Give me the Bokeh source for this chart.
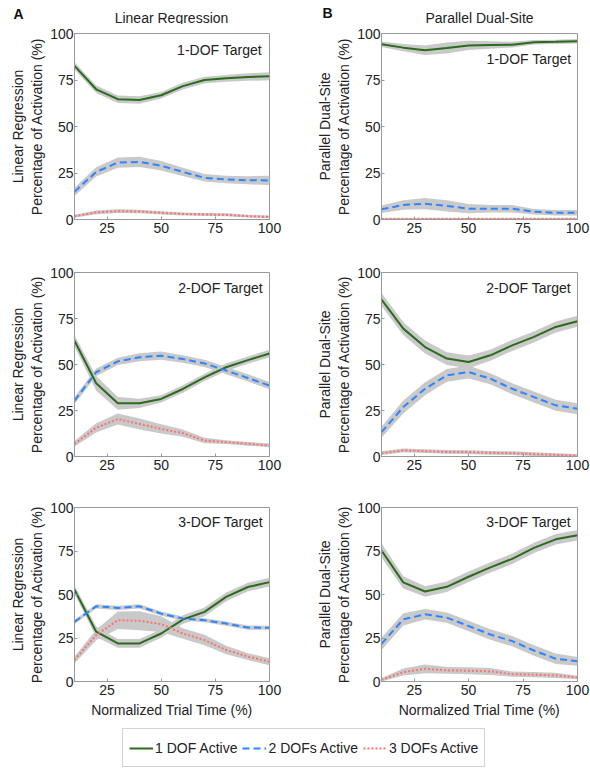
from bokeh.plotting import figure
from bokeh.layouts import column, row
from bokeh.models import Label, Legend, LegendItem, Range1d
from bokeh.embed import file_html
from bokeh.resources import INLINE

# ---------------- data ----------------
time_pct = [10, 20, 30, 40, 50, 60, 70, 80, 90, 100]
x_ticks = [25, 50, 75, 100]
y_ticks = [0, 25, 50, 75, 100]

series_names = ["1 DOF Active", "2 DOFs Active", "3 DOFs Active"]
column_titles = ["Linear Regression", "Parallel Dual-Site"]
column_letters = ["A", "B"]
target_titles = ["1-DOF Target", "2-DOF Target", "3-DOF Target"]
x_axis_title = "Normalized Trial Time (%)"
y_axis_title = "Percentage of Activation (%)"

# Linear Regression, 1-DOF target
lr_t1_one = [82.6, 70.0, 64.7, 64.2, 66.8, 71.7, 75.0, 75.9, 76.6, 77.0]
lr_t1_two = [14.9, 25.6, 30.6, 31.0, 28.9, 25.6, 22.4, 21.5, 21.1, 21.0]
lr_t1_three = [1.8, 3.8, 4.5, 4.3, 3.6, 3.0, 2.7, 2.5, 1.8, 1.4]
lr_t1_one_sem = [2.0, 2.0, 2.0, 2.0, 1.8, 1.8, 1.8, 1.8, 2.0, 2.2]
lr_t1_two_sem = [2.2, 2.5, 2.8, 2.8, 2.5, 2.2, 2.0, 2.0, 2.2, 2.5]
lr_t1_three_sem = [0.8, 1.0, 1.0, 1.0, 0.9, 0.8, 0.8, 0.8, 0.7, 0.7]

# Linear Regression, 2-DOF target
lr_t2_one = [62.9, 39.8, 28.9, 28.9, 31.3, 36.7, 43.0, 48.5, 52.4, 56.0]
lr_t2_two = [30.4, 45.8, 51.7, 53.9, 54.8, 53.0, 50.6, 46.7, 42.7, 38.5]
lr_t2_three = [6.9, 15.6, 20.4, 17.7, 15.0, 12.7, 8.7, 7.8, 6.9, 6.0]
lr_t2_one_sem = [3.0, 4.0, 3.5, 2.5, 2.0, 2.0, 2.0, 2.0, 2.0, 2.0]
lr_t2_two_sem = [2.0, 2.0, 2.0, 2.2, 2.2, 2.0, 2.0, 2.0, 2.0, 2.0]
lr_t2_three_sem = [1.5, 2.5, 3.0, 3.0, 2.5, 2.0, 1.5, 1.0, 1.0, 1.0]

# Linear Regression, 3-DOF target
lr_t3_one = [52.8, 28.6, 21.9, 21.9, 27.6, 35.6, 40.0, 48.6, 54.3, 57.1]
lr_t3_two = [34.3, 43.2, 42.3, 43.2, 39.0, 36.2, 35.2, 33.3, 31.0, 30.9]
lr_t3_three = [12.4, 26.7, 35.2, 34.9, 33.0, 27.6, 23.8, 18.1, 14.3, 11.4]
lr_t3_one_sem = [2.5, 3.0, 2.5, 2.5, 2.5, 2.5, 2.5, 2.5, 2.5, 2.5]
lr_t3_two_sem = [1.2, 1.2, 1.2, 1.2, 1.2, 1.2, 1.2, 1.2, 1.2, 1.2]
lr_t3_three_sem = [2.0, 3.0, 5.0, 5.5, 4.5, 3.0, 3.0, 2.5, 2.0, 2.0]

# Parallel Dual-Site, 1-DOF target
pd_t1_one = [94.2, 92.4, 91.0, 92.2, 93.6, 93.8, 94.0, 95.3, 95.5, 95.8]
pd_t1_two = [5.5, 7.8, 8.5, 7.3, 5.8, 5.8, 5.8, 4.2, 3.6, 3.6]
pd_t1_three = [0.4, 0.4, 0.4, 0.4, 0.4, 0.4, 0.4, 0.4, 0.4, 0.4]
pd_t1_one_sem = [1.5, 2.0, 2.5, 3.0, 2.5, 2.0, 1.5, 1.2, 1.2, 1.2]
pd_t1_two_sem = [2.0, 2.5, 3.0, 3.0, 2.5, 2.0, 2.0, 1.5, 1.5, 1.5]
pd_t1_three_sem = [0.4, 0.4, 0.4, 0.4, 0.4, 0.4, 0.4, 0.4, 0.4, 0.4]

# Parallel Dual-Site, 2-DOF target
pd_t2_one = [85.3, 69.5, 59.5, 53.2, 51.4, 55.0, 60.4, 65.0, 70.4, 73.5]
pd_t2_two = [13.2, 26.9, 36.8, 44.1, 45.9, 42.3, 36.8, 32.3, 27.8, 26.0]
pd_t2_three = [1.8, 3.3, 2.9, 2.5, 2.4, 2.0, 1.8, 1.3, 0.9, 0.5]
pd_t2_one_sem = [3.5, 3.5, 3.5, 3.5, 3.5, 3.0, 3.0, 3.0, 3.0, 3.0]
pd_t2_two_sem = [3.0, 3.5, 3.5, 3.5, 3.5, 3.0, 3.0, 3.0, 3.0, 3.0]
pd_t2_three_sem = [1.0, 1.0, 1.0, 1.0, 1.0, 1.0, 1.0, 1.0, 0.8, 0.8]

# Parallel Dual-Site, 3-DOF target
pd_t3_one = [75.3, 57.0, 51.7, 54.4, 60.2, 65.6, 70.5, 76.8, 81.7, 84.0]
pd_t3_two = [21.6, 35.7, 38.6, 36.7, 31.9, 27.0, 23.2, 17.8, 13.1, 11.6]
pd_t3_three = [1.0, 5.4, 7.3, 6.4, 6.2, 5.8, 4.2, 3.9, 3.5, 2.3]
pd_t3_one_sem = [4.0, 3.5, 3.0, 3.0, 3.0, 3.0, 3.0, 3.0, 3.0, 3.0]
pd_t3_two_sem = [3.5, 3.5, 3.0, 3.0, 3.0, 3.0, 3.0, 3.0, 3.0, 2.5]
pd_t3_three_sem = [1.0, 2.0, 2.5, 2.0, 2.0, 2.0, 1.5, 1.5, 1.5, 1.0]

panels = [
    [  # Linear Regression column
        ([lr_t1_one, lr_t1_two, lr_t1_three], [lr_t1_one_sem, lr_t1_two_sem, lr_t1_three_sem]),
        ([lr_t2_one, lr_t2_two, lr_t2_three], [lr_t2_one_sem, lr_t2_two_sem, lr_t2_three_sem]),
        ([lr_t3_one, lr_t3_two, lr_t3_three], [lr_t3_one_sem, lr_t3_two_sem, lr_t3_three_sem]),
    ],
    [  # Parallel Dual-Site column
        ([pd_t1_one, pd_t1_two, pd_t1_three], [pd_t1_one_sem, pd_t1_two_sem, pd_t1_three_sem]),
        ([pd_t2_one, pd_t2_two, pd_t2_three], [pd_t2_one_sem, pd_t2_two_sem, pd_t2_three_sem]),
        ([pd_t3_one, pd_t3_two, pd_t3_three], [pd_t3_one_sem, pd_t3_two_sem, pd_t3_three_sem]),
    ],
]

# ---------------- style ----------------
FONT = "Liberation Sans"
TXT = "#222222"
AX = "#9a9a9a"
BAND = "#c9c9c9"
COLORS = ["#2c6b1c", "#2f84ff", "#ff7070"]
DASHES = ["solid", "7 4", "2 2"]
WIDTHS = [2, 2, 2]

col_geom = [dict(width=295, left=74, right=26), dict(width=295, left=86, right=13)]
row_geom = [dict(height=223, top=9, bottom=28),
            dict(height=236, top=25, bottom=27),
            dict(height=240, top=24, bottom=42)]
target_label_pos = [
    [(96.5, 91.0), (97.0, 91.8), (97.0, 91.4)],
    [(97.2, 86.5), (97.0, 91.8), (97.0, 91.4)],
]


def bare_figure(w, h, xr, yr):
    f = figure(width=w, height=h, x_range=Range1d(*xr), y_range=Range1d(*yr),
               toolbar_location=None, output_backend="svg", min_border=0,
               x_axis_location=None, y_axis_location=None,
               background_fill_color="white", border_fill_color="white")
    f.outline_line_color = None
    f.grid.visible = False
    return f


# ---------------- header (panel letters and column titles) ----------------
HEAD_H = 24
head = bare_figure(590, HEAD_H, (0, 590), (0, HEAD_H))
for ci, (lx, ly, tx, ty) in enumerate([(13, 13, 171, 17), (322, 12, 479, 17)]):
    head.add_layout(Label(x=lx, y=HEAD_H - ly, text=column_letters[ci], text_align="left",
                          text_baseline="middle", text_font=FONT, text_font_size="14px",
                          text_font_style="bold", text_color="#111111"))
    head.add_layout(Label(x=tx, y=HEAD_H - ty, text=column_titles[ci], text_align="center",
                          text_baseline="middle", text_font=FONT, text_font_size="14px",
                          text_color=TXT))


def make_panel(ci, ri):
    cg, rg = col_geom[ci], row_geom[ri]
    p = figure(width=cg["width"], height=rg["height"],
               x_range=Range1d(10, 100), y_range=Range1d(0, 100),
               toolbar_location=None, output_backend="svg",
               min_border_left=cg["left"], min_border_right=cg["right"],
               min_border_top=rg["top"], min_border_bottom=rg["bottom"],
               background_fill_color="white", border_fill_color="white")
    p.grid.visible = False
    p.outline_line_color = AX
    p.outline_line_width = 1
    for ax in (p.xaxis[0], p.yaxis[0]):
        ax.axis_line_color = AX
        ax.major_tick_line_color = AX
        ax.major_tick_in = 3
        ax.major_tick_out = 0
        ax.minor_tick_line_color = None
        ax.major_label_text_font = FONT
        ax.major_label_text_font_size = "14px"
        ax.major_label_text_color = TXT
        ax.axis_label_text_font = FONT
        ax.axis_label_text_font_size = "14px"
        ax.axis_label_text_font_style = "normal"
        ax.axis_label_text_color = TXT
    p.xaxis.ticker = x_ticks
    p.yaxis.ticker = y_ticks
    p.xaxis.major_label_standoff = 3
    p.yaxis.major_label_standoff = 1
    p.yaxis.axis_label = column_titles[ci] + "\n" + y_axis_title
    p.yaxis.axis_label_standoff = 2
    p.yaxis.axis_label_text_line_height = 1.2
    if ri == 2:
        p.xaxis.axis_label = x_axis_title
        p.xaxis.axis_label_standoff = 4

    means, sems = panels[ci][ri]
    for m, s in zip(means, sems):
        lo = [a - b for a, b in zip(m, s)]
        hi = [a + b for a, b in zip(m, s)]
        p.varea(x=time_pct, y1=lo, y2=hi, fill_color=BAND, fill_alpha=1.0)
    for k, m in enumerate(means):
        p.line(x=time_pct, y=m, line_color=COLORS[k], line_width=WIDTHS[k],
               line_dash=DASHES[k])

    tx, ty = target_label_pos[ci][ri]
    p.add_layout(Label(x=tx, y=ty, text=target_titles[ri], text_align="right",
                       text_baseline="middle", text_font=FONT,
                       text_font_size="14px", text_color=TXT))
    return p


rows = []
for ri in range(3):
    rows.append(row(make_panel(0, ri), make_panel(1, ri)))

# ---------------- legend ----------------
# series lines drawn off-screen (x range far from data) so only the legend shows
lf = bare_figure(590, 46, (1000, 1001), (0, 1))
items = []
for k, name in enumerate(series_names):
    r = lf.line(x=time_pct, y=panels[0][0][0][k], line_color=COLORS[k],
                line_width=WIDTHS[k], line_dash=DASHES[k])
    items.append(LegendItem(label=name, renderers=[r]))
leg = Legend(items=items, orientation="horizontal", location=(122, 2),
             label_text_font=FONT, label_text_font_size="14px",
             label_text_color=TXT, glyph_width=24, glyph_height=14,
             label_height=25, label_standoff=2, spacing=5, padding=6, margin=0,
             border_line_color="#a8a8a8", border_line_width=1,
             background_fill_color="white")
lf.add_layout(leg)

layout = column(head, *rows, lf)

open("out.html", "w").write(file_html(layout, INLINE))
